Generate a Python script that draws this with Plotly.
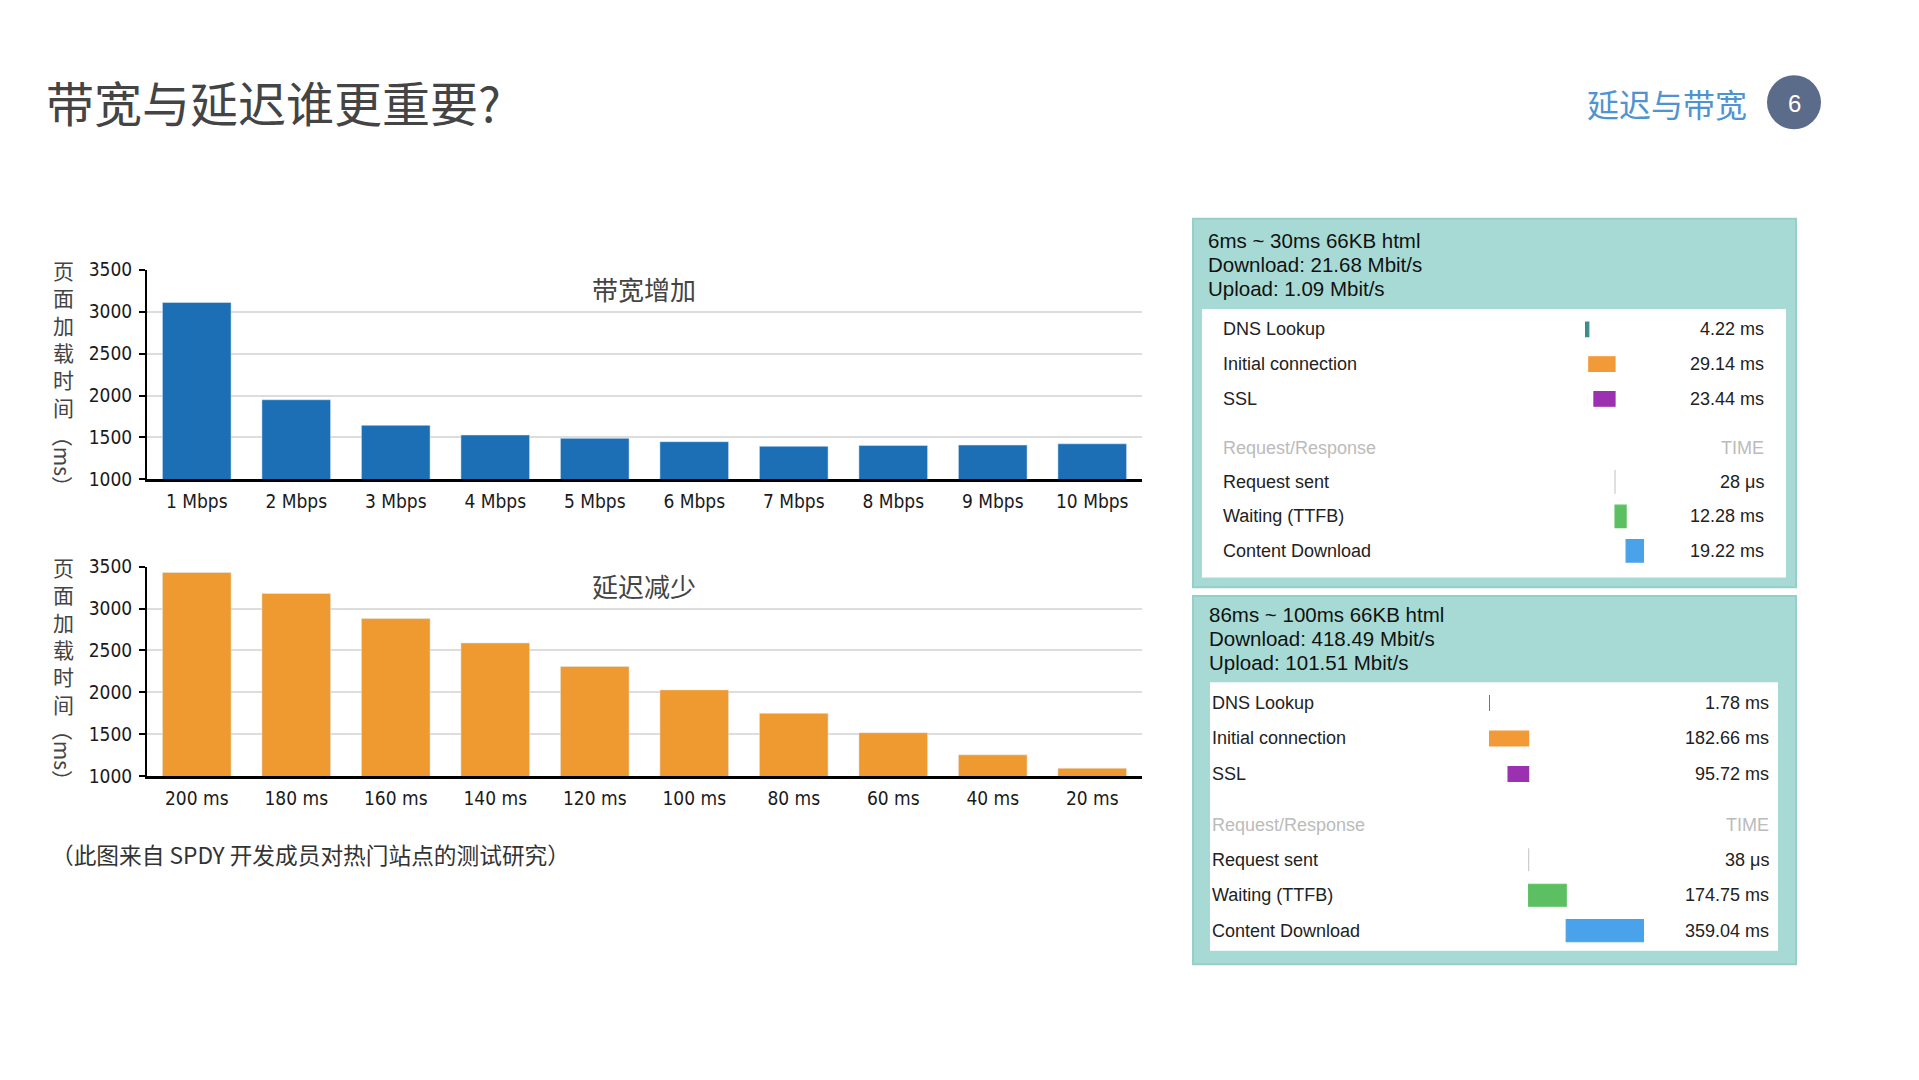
import plotly.graph_objects as go

# page size, everything is laid out in pixels and converted to paper coords
W, H = 1919, 1080


def fx(x):
    return x / W


def fy(y):
    return 1 - y / H


# ---- data ----
bandwidth_labels = ['1 Mbps', '2 Mbps', '3 Mbps', '4 Mbps', '5 Mbps',
                    '6 Mbps', '7 Mbps', '8 Mbps', '9 Mbps', '10 Mbps']
bandwidth_load = [3110, 1950, 1645, 1530, 1490, 1450, 1395, 1405, 1410, 1425]

latency_labels = ['200 ms', '180 ms', '160 ms', '140 ms', '120 ms',
                  '100 ms', '80 ms', '60 ms', '40 ms', '20 ms']
latency_load = [3430, 3180, 2880, 2590, 2310, 2030, 1750, 1520, 1255, 1095]

y_ticks = [1000, 1500, 2000, 2500, 3000, 3500]

conn_rows = ['DNS Lookup', 'Initial connection', 'SSL']
req_rows = ['Request sent', 'Waiting (TTFB)', 'Content Download']

p1_header = ['6ms ~ 30ms 66KB html', 'Download: 21.68 Mbit/s', 'Upload: 1.09 Mbit/s']
p1_conn_ms = [4.22, 29.14, 23.44]
p1_conn_start = [0, 4.22, 9.92]
p1_req_ms = [0.028, 12.28, 19.22]
p1_req_start = [33.36, 33.39, 45.67]

p2_header = ['86ms ~ 100ms 66KB html', 'Download: 418.49 Mbit/s', 'Upload: 101.51 Mbit/s']
p2_conn_ms = [1.78, 182.66, 95.72]
p2_conn_start = [0, 1.78, 88.72]
p2_req_ms = [0.038, 174.75, 359.04]
p2_req_start = [184.44, 184.48, 359.23]

conn_colors = ['#3a8f86', '#f29a38', '#9b30b0']
req_colors = ['#cccccc', '#5cc062', '#4aa3ea']


def fmt_time(v):
    if v < 1:
        return f'{v * 1000:.0f} μs'
    return f'{v:.2f} ms'


fig = go.Figure()

# ---- the two bar charts ----
fig.add_trace(go.Bar(x=bandwidth_labels, y=bandwidth_load, marker_color='#1c6fb4',
                     xaxis='x', yaxis='y', hoverinfo='skip'))
fig.add_trace(go.Bar(x=latency_labels, y=latency_load, marker_color='#ee9a31',
                     xaxis='x2', yaxis='y2', hoverinfo='skip'))

tickfont = dict(family='DejaVu Sans Condensed, Roboto Condensed, Roboto', size=19, color='#1a1a1a')
chart_x = dict(domain=[fx(139), fx(1134)], showline=True, linecolor='black', linewidth=3,
               ticks='', tickfont=tickfont, ticklabelstandoff=3, showgrid=False)
chart_y = dict(range=[1000, 3500], tickvals=y_ticks, showline=True, linecolor='black',
               linewidth=2, ticks='outside', ticklen=6, tickwidth=2, tickcolor='black',
               tickfont=tickfont, showgrid=True, gridcolor='#dddddd', gridwidth=2,
               zeroline=False, ticklabelstandoff=3)

fig.update_layout(
    xaxis=dict(chart_x, anchor='y'),
    yaxis=dict(chart_y, domain=[fy(470), fy(256)], anchor='x'),
    xaxis2=dict(chart_x, anchor='y2'),
    yaxis2=dict(chart_y, domain=[fy(773), fy(559)], anchor='x2'),
)


# ---- waterfall bars in the right panels ----
def waterfall(rows, start, ms, colors, xa, ya, width):
    fig.add_trace(go.Bar(y=rows, x=ms, base=start, orientation='h', width=width,
                         marker=dict(color=colors, line=dict(color=colors, width=1.2)),
                         xaxis=xa, yaxis=ya, hoverinfo='skip'))


waterfall(conn_rows, p1_conn_start, p1_conn_ms, conn_colors, 'x3', 'y3', 0.42)
waterfall(req_rows, p1_req_start, p1_req_ms, req_colors, 'x3', 'y4', 0.65)
waterfall(conn_rows, p2_conn_start, p2_conn_ms, conn_colors, 'x4', 'y5', 0.42)
waterfall(req_rows, p2_req_start, p2_req_ms, req_colors, 'x4', 'y6', 0.62)

hidden = dict(visible=False, showgrid=False, zeroline=False, fixedrange=True)
fig.update_layout(
    xaxis3=dict(hidden, domain=[fx(1577), fx(1700)], range=[0, 123 / 0.90], anchor='y3'),
    xaxis4=dict(hidden, domain=[fx(1481), fx(1700)], range=[0, 219 / 0.215], anchor='y5'),
    yaxis3=dict(hidden, domain=[fy(405.5), fy(299)], categoryorder='array',
                categoryarray=conn_rows, range=[2.5, -0.5], anchor='x3'),
    yaxis4=dict(hidden, domain=[fy(560.5), fy(454.9)], categoryorder='array',
                categoryarray=req_rows, range=[2.5, -0.5], anchor='x3'),
    yaxis5=dict(hidden, domain=[fy(788.8), fy(680.2)], categoryorder='array',
                categoryarray=conn_rows, range=[2.5, -0.5], anchor='x4'),
    yaxis6=dict(hidden, domain=[fy(948.8), fy(840.1)], categoryorder='array',
                categoryarray=req_rows, range=[2.5, -0.5], anchor='x4'),
)

# ---- shapes: panels and page marker ----
shapes = []
for (x0, y0, x1, y1), (wx0, wy0, wx1, wy1) in [((1185, 204, 1788, 580), (1194, 296, 1778, 570)),
                                              ((1185, 589, 1788, 965), (1202, 677, 1770, 951))]:
    shapes.append(dict(type='rect', xref='paper', yref='paper', layer='below',
                       x0=fx(x0), x1=fx(x1), y0=fy(y1), y1=fy(y0),
                       fillcolor='#a7dad4', line=dict(color='#95cfc7', width=2)))
    shapes.append(dict(type='rect', xref='paper', yref='paper', layer='below',
                       x0=fx(wx0), x1=fx(wx1), y0=fy(wy1), y1=fy(wy0),
                       fillcolor='white', line=dict(width=0)))
shapes.append(dict(type='circle', xref='paper', yref='paper', xsizemode='pixel',
                   ysizemode='pixel', xanchor=fx(1786), yanchor=fy(85),
                   x0=-27, x1=27, y0=-27, y1=27, fillcolor='#5b6b8a', line=dict(width=0)))

# ---- text ----
cjk = 'Noto Sans CJK SC'
sans = 'Liberation Sans'
ann = []


def text(x, y, s, size, color='#222', family=sans, anchor='left', **kw):
    ann.append(dict(x=fx(x), y=fy(y), xref='paper', yref='paper', text=s, showarrow=False,
                    xanchor=anchor, yanchor='middle', font=dict(family=family, size=size, color=color), **kw))


text(36, 84, '带宽与延迟谁更重要?', 48, '#444', cjk)
text(1577, 85.5, '延迟与带宽', 32, '#4f93d2', cjk)
text(1786, 86, '6', 24, 'white', sans, 'center')
text(41, 853, '（此图来自 SPDY 开发成员对热门站点的测试研究）', 22.7, '#333', cjk)

# chart titles and vertical y axis titles
text(636, 275, '带宽增加', 26, '#444', cjk, 'center')
text(636, 578, '延迟减少', 26, '#444', cjk, 'center')
for mid, my in [(326.5, 451), (629.5, 751)]:
    text(55, mid, '<br>'.join('页面加载时间'), 21, '#444', cjk, 'center')
    text(55, my, '（ms）', 21, '#444', cjk, 'center', textangle=90)

# panel texts
panels = [
    (p1_header, 1198, [226.2, 250.8, 275.4], 1212.5, 1757.5,
     [316.7, 352.2, 387.7], 437.9, [472.5, 507.3, 542.9], p1_conn_ms, p1_req_ms),
    (p2_header, 1199, [607.8, 632.4, 657], 1201.5, 1762.5,
     [698.3, 734.1, 770.7], 823, [858.2, 894.5, 930.7], p2_conn_ms, p2_req_ms),
]
for header, hx, hys, lx, vx, conn_y, rr_y, req_y, conn_ms, req_ms in panels:
    for s, y in zip(header, hys):
        text(hx, y, s, 20.5, '#111')
    for name, v, y in zip(conn_rows, conn_ms, conn_y):
        text(lx, y, name, 18)
        text(vx, y, fmt_time(v), 18, anchor='right')
    text(lx, rr_y, 'Request/Response', 18, '#bbbbbb')
    text(vx, rr_y, 'TIME', 18, '#bbbbbb', anchor='right')
    for name, v, y in zip(req_rows, req_ms, req_y):
        text(lx, y, name, 18)
        text(vx, y, fmt_time(v), 18, anchor='right')

fig.update_layout(
    width=W, height=H, margin=dict(l=0, r=0, t=0, b=0),
    paper_bgcolor='white', plot_bgcolor='rgba(0,0,0,0)',
    showlegend=False, bargap=0.31,
    shapes=shapes, annotations=ann,
)

fig.write_html('out.html')
